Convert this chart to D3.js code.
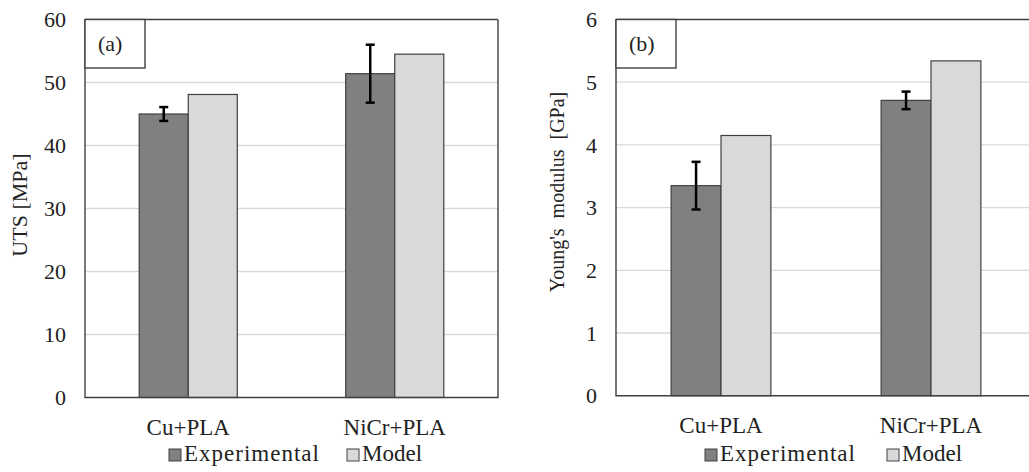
<!DOCTYPE html>
<html>
<head>
<meta charset="utf-8">
<script src="https://cdn.jsdelivr.net/npm/d3@7"></script>
<style>
  body { margin: 0; background: #fff; }
  svg text { font-family: "Liberation Serif", "Times New Roman", Times, "DejaVu Serif", serif; }
</style>
</head>
<body>
<svg id="chart" width="1029" height="472"></svg>
<script>
/* ------------ DATA ---------------------------------------------------- */
const categories = ['Cu+PLA', 'NiCr+PLA'];
const series     = ['Experimental', 'Model'];

const utsExp    = [45.0, 51.4];
const utsExpErr = [1.1, 4.6];
const utsModel  = [48.1, 54.5];
const utsTicks  = [0, 10, 20, 30, 40, 50, 60];

const ymExp    = [3.35, 4.71];
const ymExpErr = [0.38, 0.14];
const ymModel  = [4.15, 5.34];
const ymTicks  = [0, 1, 2, 3, 4, 5, 6];

/* ------------ STYLE --------------------------------------------------- */
const colors = { Experimental: '#808080', Model: '#d9d9d9' };
const FRAME = '#404040';
const GRID  = '#d9d9d9';
const FONT  = '"Liberation Serif", "Times New Roman", Times, "DejaVu Serif", serif';

const svg = d3.select('#chart');

/* ------------ PANEL --------------------------------------------------- */
function drawPanel(p) {
  const g = svg.append('g').attr('font-family', FONT);

  const x = d3.scaleBand().domain(categories)
    .range([p.x0, p.x1]).paddingInner(0.525).paddingOuter(0.2625);
  const xs = d3.scaleBand().domain(series).range([0, x.bandwidth()]);
  const y = d3.scaleLinear().domain([0, p.ticks[p.ticks.length - 1]]).range([p.y1, p.y0]);

  // gridlines
  g.selectAll('line.grid')
    .data(p.ticks.slice(1, -1))
    .join('line')
      .attr('class', 'grid')
      .attr('x1', p.x0).attr('x2', p.gridEnd)
      .attr('y1', d => y(d)).attr('y2', d => y(d))
      .attr('stroke', GRID).attr('stroke-width', 1.3);

  // tick labels
  g.selectAll('text.tick')
    .data(p.ticks)
    .join('text')
      .attr('class', 'tick')
      .attr('x', p.tickX).attr('y', d => y(d))
      .attr('dy', '0.35em')
      .attr('text-anchor', 'end')
      .attr('font-size', 22)
      .attr('fill', '#222')
      .text(d => d);

  // bars
  const rows = categories.map((c, i) => ({ c, i, vals: [
    { s: 'Experimental', v: p.exp[i], e: p.err[i] },
    { s: 'Model', v: p.model[i] }
  ]}));

  const grp = g.selectAll('g.cat').data(rows).join('g')
    .attr('class', 'cat')
    .attr('transform', d => `translate(${x(d.c)},0)`);

  grp.selectAll('rect')
    .data(d => d.vals)
    .join('rect')
      .attr('x', d => xs(d.s))
      .attr('y', d => y(d.v))
      .attr('width', xs.bandwidth())
      .attr('height', d => y(0) - y(d.v))
      .attr('fill', d => colors[d.s])
      .attr('stroke', FRAME).attr('stroke-width', 1.2);

  // error bars
  const eb = grp.selectAll('g.err')
    .data(d => d.vals.filter(v => v.e != null))
    .join('g').attr('class', 'err')
    .attr('transform', d => `translate(${xs(d.s) + xs.bandwidth() / 2},0)`);
  eb.append('line')
    .attr('y1', d => y(d.v - d.e)).attr('y2', d => y(d.v + d.e))
    .attr('stroke', '#000').attr('stroke-width', 2.5);
  eb.selectAll('line.cap')
    .data(d => [d.v - d.e, d.v + d.e])
    .join('line').attr('class', 'cap')
    .attr('x1', -4.5).attr('x2', 4.5)
    .attr('y1', d => y(d)).attr('y2', d => y(d))
    .attr('stroke', '#000').attr('stroke-width', 2.5);

  // frame
  g.append('path')
    .attr('d', `M${p.x0},${p.y0}V${p.y1}H${p.x1}` + (p.closeRight ? `V${p.y0}` : ''))
    .attr('fill', 'none').attr('stroke', FRAME).attr('stroke-width', 1.4);
  g.append('line')
    .attr('x1', p.x0).attr('x2', p.topEnd)
    .attr('y1', p.y0).attr('y2', p.y0)
    .attr('stroke', FRAME).attr('stroke-width', 1.4);

  // panel label box
  g.append('rect')
    .attr('x', p.x0).attr('y', p.y0)
    .attr('width', 60).attr('height', 48.5)
    .attr('fill', '#fff').attr('stroke', FRAME).attr('stroke-width', 1.4);
  g.append('text')
    .attr('x', p.x0 + 13).attr('y', p.y0 + 31)
    .attr('font-size', 22).attr('fill', '#222')
    .text(p.label);

  // category labels
  g.selectAll('text.cat')
    .data(categories)
    .join('text')
      .attr('class', 'cat')
      .attr('x', d => x(d) + x.bandwidth() / 2)
      .attr('y', p.catY)
      .attr('text-anchor', 'middle')
      .attr('font-size', 23).attr('fill', '#222')
      .text(d => d);

  // y title
  g.append('text')
    .attr('transform', `translate(${p.titleX},${p.titleY}) rotate(-90)`)
    .attr('text-anchor', 'middle')
    .attr('font-size', p.titleSize).attr('fill', '#222')
    .style('white-space', 'pre')
    .text(p.title);

  // legend
  const lg = g.selectAll('g.leg')
    .data(series)
    .join('g').attr('class', 'leg')
    .attr('transform', (d, i) => `translate(${p.legX[i]},${p.legY})`);
  lg.append('rect')
    .attr('x', 0).attr('y', -12).attr('width', 12).attr('height', 12)
    .attr('fill', d => colors[d]).attr('stroke', FRAME).attr('stroke-width', 1);
  lg.append('text')
    .attr('x', 15).attr('y', 0)
    .attr('font-size', 23).attr('fill', '#222')
    .attr('letter-spacing', d => d === 'Experimental' ? 1 : 0)
    .text(d => d);
}

drawPanel({
  x0: 85, x1: 498, y0: 19.5, y1: 397.5, gridEnd: 498, topEnd: 498, closeRight: true,
  ticks: utsTicks, exp: utsExp, err: utsExpErr, model: utsModel,
  tickX: 66, label: '(a)', catY: 435,
  title: 'UTS [MPa]', titleX: 27, titleY: 205, titleSize: 22,
  legX: [169, 347], legY: 461
});

drawPanel({
  x0: 616, x1: 1036, y0: 19.5, y1: 395.7, gridEnd: 1029, topEnd: 1029, closeRight: false,
  ticks: ymTicks, exp: ymExp, err: ymExpErr, model: ymModel,
  tickX: 597, label: '(b)', catY: 433,
  title: "Young's  modulus  [GPa]", titleX: 564, titleY: 192, titleSize: 20,
  legX: [705, 887], legY: 461
});
</script>
</body>
</html>
